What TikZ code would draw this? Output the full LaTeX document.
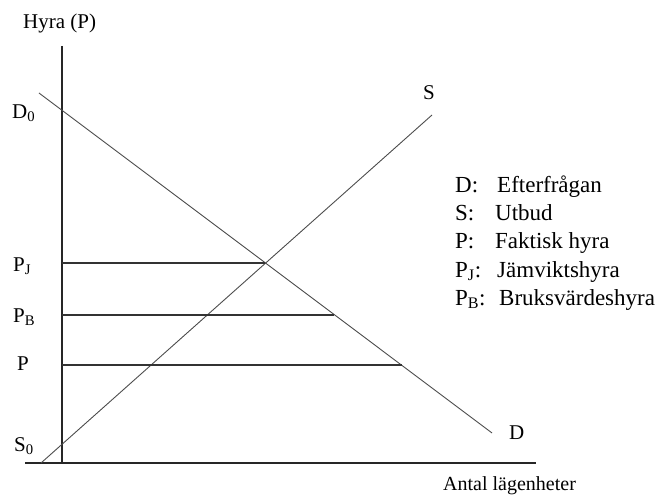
\documentclass[tikz,border=0pt]{standalone}
\usepackage{fontspec}
\setmainfont{Liberation Serif}
\begin{document}
\begin{tikzpicture}[x=1pt,y=-1pt,
  lbl/.style={anchor=base west,inner sep=0pt,font=\fontsize{21}{25}\selectfont},
  leg/.style={anchor=base west,inner sep=0pt,font=\fontsize{23}{27}\selectfont},
  axis/.style={line width=1.4pt,black!85},
  curve/.style={line width=0.9pt,black!70},
  level/.style={line width=1.2pt,black!80}]
\useasboundingbox (0,0) rectangle (657,495);
% axes
\coordinate (ytop) at (62,46);
\coordinate (origin) at (62,463);
\coordinate (xleft) at (25,463);
\coordinate (xright) at (536,463);
\draw[axis] (ytop) -- (origin);
\draw[axis] (xleft) -- (xright);
% demand and supply
\coordinate (d0) at (39,93);
\coordinate (d1) at (492,433);
\coordinate (s0) at (41,463);
\coordinate (s1) at (432,115);
\draw[curve] (d0) -- (d1);
\draw[curve] (s0) -- (s1);
% price levels
\coordinate (pj0) at (62,263);
\coordinate (pj1) at (265,263);
\coordinate (pb0) at (62,315);
\coordinate (pb1) at (334,315);
\coordinate (p0) at (62,365);
\coordinate (p1) at (402,365);
\draw[level] (pj0) -- (pj1);
\draw[level] (pb0) -- (pb1);
\draw[level] (p0) -- (p1);
% labels
\node[lbl] (hyra) at (23,29) {Hyra (P)};
\node[lbl] (D0) at (12,118) {D\textsubscript{0}};
\node[lbl] (PJ) at (13,271) {P\textsubscript{J}};
\node[lbl] (PB) at (13,322) {P\textsubscript{B}};
\node[lbl] (Pl) at (17,370) {P};
\node[lbl] (S0) at (14,451) {S\textsubscript{0}};
\node[lbl] (Slab) at (423,100) {S};
\node[lbl] (Dlab) at (509,439) {D};
\node[lbl,font=\fontsize{20}{24}\selectfont] (antal) at (443,490) {Antal lägenheter};
% legend
\node[leg] (k1) at (455,193) {D:};
\node[leg] (v1) at (497,193) {Efterfrågan};
\node[leg] (k2) at (455,220) {S:};
\node[leg] (v2) at (495,220) {Utbud};
\node[leg] (k3) at (455,248) {P:};
\node[leg] (v3) at (495,248) {Faktisk hyra};
\node[leg] (k4) at (455,277) {P\textsubscript{J}:};
\node[leg] (v4) at (497,277) {Jämviktshyra};
\node[leg] (k5) at (455,305) {P\textsubscript{B}:};
\node[leg] (v5) at (499,305) {Bruksvärdeshyra};
\end{tikzpicture}
\end{document}
